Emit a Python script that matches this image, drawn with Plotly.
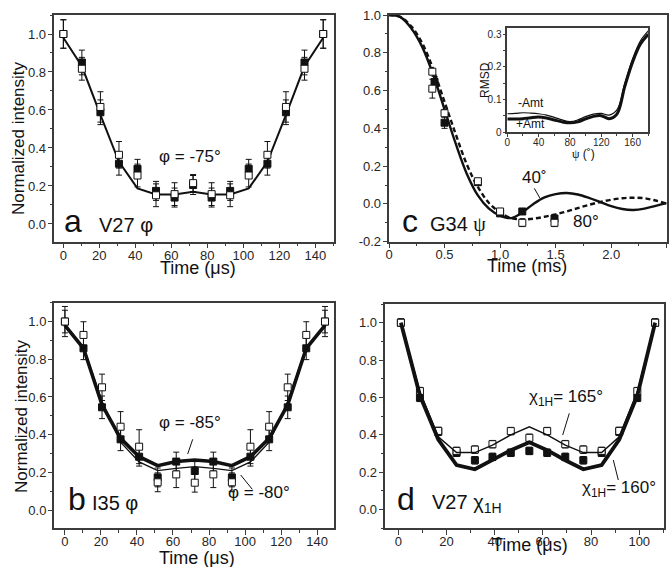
import plotly.graph_objects as go

W, H = 671, 567
SANS = "Liberation Sans, Arial, sans-serif"
INK = "#111111"
AXC = "#3c3c3c"

# ---------------- data ----------------
# (a) V27 phi
a_time = [0, 10.3, 20.6, 30.9, 41.2, 51.5, 61.8, 72.1, 82.4, 92.7, 103.0, 113.4, 123.7, 134.0, 144.4]
a_open = [1.0, 0.817, 0.616, 0.364, 0.255, 0.151, 0.157, 0.215, 0.157, 0.151, 0.255, 0.364, 0.616, 0.817, 1.0]
a_open_err = [0.075, 0.06, 0.08, 0.07, 0.06, 0.06, 0.06, 0.045, 0.06, 0.06, 0.06, 0.07, 0.08, 0.06, 0.075]
a_fill = [1.0, 0.85, 0.588, 0.317, 0.29, 0.174, 0.139, 0.205, 0.139, 0.174, 0.29, 0.317, 0.588, 0.85, 1.0]
a_fill_err = [0.075, 0.065, 0.065, 0.06, 0.05, 0.05, 0.05, 0.05, 0.05, 0.05, 0.05, 0.06, 0.065, 0.065, 0.075]
a_fit = [0.98, 0.83, 0.574, 0.327, 0.187, 0.155, 0.155, 0.169, 0.155, 0.155, 0.187, 0.327, 0.574, 0.83, 0.98]

# (b) I35 phi
b_time = [0, 10.3, 20.6, 30.9, 41.2, 51.5, 61.8, 72.1, 82.4, 92.7, 103.0, 113.4, 123.7, 134.0, 144.4]
b_open = [1.0, 0.929, 0.651, 0.442, 0.336, 0.147, 0.189, 0.145, 0.189, 0.147, 0.336, 0.442, 0.651, 0.929, 1.0]
b_open_err = [0.08, 0.07, 0.07, 0.08, 0.09, 0.05, 0.07, 0.05, 0.07, 0.05, 0.09, 0.08, 0.07, 0.07, 0.08]
b_fill = [1.0, 0.858, 0.545, 0.375, 0.283, 0.173, 0.257, 0.207, 0.257, 0.173, 0.283, 0.375, 0.545, 0.858, 1.0]
b_fill_err = [0.06, 0.06, 0.06, 0.06, 0.05, 0.05, 0.05, 0.05, 0.05, 0.05, 0.05, 0.06, 0.06, 0.06, 0.06]
b_fit_m85 = [0.98, 0.858, 0.558, 0.38, 0.283, 0.235, 0.257, 0.265, 0.257, 0.235, 0.283, 0.38, 0.558, 0.858, 0.98]
b_fit_m80 = [0.98, 0.865, 0.575, 0.36, 0.255, 0.209, 0.221, 0.23, 0.221, 0.209, 0.255, 0.36, 0.575, 0.865, 0.98]

# (c) G34 psi
c_time = [0.0, 0.1, 0.2, 0.3, 0.4, 0.5, 0.6, 0.7, 0.8, 0.9, 1.0, 1.1, 1.2, 1.3,
          1.4, 1.5, 1.6, 1.7, 1.8, 1.9, 2.0, 2.1, 2.2, 2.3, 2.4, 2.5]
c_fit_40 = [1.0, 0.99, 0.93, 0.83, 0.68, 0.50, 0.32, 0.16, 0.045, -0.025, -0.062, -0.075, -0.045, 0.0,
            0.035, 0.052, 0.058, 0.05, 0.032, 0.01, -0.012, -0.027, -0.032, -0.025, -0.01, 0.004]
c_fit_80 = [1.0, 0.99, 0.94, 0.85, 0.71, 0.54, 0.37, 0.21, 0.09, 0.005, -0.045, -0.075, -0.082, -0.078,
            -0.068, -0.055, -0.04, -0.022, -0.005, 0.01, 0.022, 0.03, 0.033, 0.03, 0.018, 0.002]
c_open_t = [0.39, 0.39, 0.50, 0.80, 1.00, 1.20, 1.49]
c_open = [0.70, 0.61, 0.48, 0.12, -0.04, -0.10, -0.10]
c_open_err = [0.015, 0.05, 0.02, 0.015, 0.015, 0.02, 0.02]
c_fill_t = [0.41, 0.50, 0.80, 1.00, 1.20, 1.49]
c_fill = [0.645, 0.43, 0.115, -0.05, -0.04, -0.077]
c_fill_err = [0.03, 0.03, 0.015, 0.015, 0.015, 0.015]
c_xticks = [0, 0.5, 1.0, 1.5, 2.0, 2.5]
c_xticktext = ["0", "0.5", "1.0", "1.5", "2.0", "2.5"]
c_yticks = [-0.2, 0.0, 0.2, 0.4, 0.6, 0.8, 1.0]
c_yticktext = ["-0.2", "0.0", "0.2", "0.4", "0.6", "0.8", "1.0"]

# inset RMSD vs psi
ins_psi = [0, 10, 20, 30, 40, 50, 60, 70, 80, 90, 100, 110, 120, 130, 140, 150, 160, 170, 180]
ins_plus = [0.040, 0.040, 0.041, 0.044, 0.046, 0.043, 0.037, 0.031, 0.028, 0.031, 0.040, 0.048, 0.050, 0.041, 0.055, 0.140, 0.215, 0.270, 0.300]
ins_minus = [0.056, 0.057, 0.059, 0.058, 0.056, 0.052, 0.045, 0.037, 0.032, 0.037, 0.047, 0.055, 0.057, 0.052, 0.068, 0.150, 0.225, 0.280, 0.310]

# (d) V27 chi1H
d_time = [1.1, 9.0, 16.6, 24.2, 31.8, 39.1, 46.7, 54.4, 61.8, 69.3, 76.8, 84.4, 91.7, 99.2, 106.6]
d_open = [1.0, 0.634, 0.421, 0.314, 0.321, 0.35, 0.42, 0.384, 0.42, 0.35, 0.321, 0.314, 0.421, 0.634, 1.0]
d_fill = [1.0, 0.598, 0.416, 0.304, 0.264, 0.282, 0.304, 0.314, 0.304, 0.282, 0.264, 0.304, 0.416, 0.598, 1.0]
d_err = [0.02, 0.02, 0.02, 0.02, 0.02, 0.02, 0.02, 0.02, 0.02, 0.02, 0.02, 0.02, 0.02, 0.02, 0.02]
d_fit_165 = [1.0, 0.63, 0.39, 0.305, 0.305, 0.345, 0.40, 0.443, 0.40, 0.345, 0.305, 0.305, 0.39, 0.63, 1.0]
d_fit_160 = [1.0, 0.61, 0.375, 0.238, 0.216, 0.264, 0.318, 0.36, 0.318, 0.264, 0.216, 0.238, 0.375, 0.61, 1.0]


def px(x):
    return x / W


def py(y):
    return 1 - y / H


fig = go.Figure()


def points(x, y, err, filled, xa, ya):
    fig.add_trace(go.Scatter(
        x=x, y=y, mode="markers", xaxis=xa, yaxis=ya,
        marker=dict(symbol="square", size=7,
                    color=INK if filled else "white",
                    line=dict(color=INK, width=1)),
        error_y=dict(type="data", array=err, visible=True, color=INK,
                     thickness=1, width=3),
        showlegend=False, hoverinfo="skip"))


def curve(x, y, width, xa, ya, dash="solid", shape="linear"):
    fig.add_trace(go.Scatter(
        x=x, y=y, mode="lines", xaxis=xa, yaxis=ya,
        line=dict(color=INK, width=width, dash=dash, shape=shape),
        showlegend=False, hoverinfo="skip"))


# panel a
curve(a_time, a_fit, 2, "x", "y")
points(a_time, a_fill, a_fill_err, True, "x", "y")
points(a_time, a_open, a_open_err, False, "x", "y")
# panel b
curve(b_time, b_fit_m80, 1.4, "x2", "y2")
curve(b_time, b_fit_m85, 3.6, "x2", "y2")
points(b_time, b_fill, b_fill_err, True, "x2", "y2")
points(b_time, b_open, b_open_err, False, "x2", "y2")
# panel c
curve(c_time, c_fit_80, 2.4, "x3", "y3", dash="5px,3px", shape="spline")
curve(c_time, c_fit_40, 2.4, "x3", "y3", shape="spline")
points(c_fill_t, c_fill, c_fill_err, True, "x3", "y3")
points(c_open_t, c_open, c_open_err, False, "x3", "y3")
# inset
curve(ins_psi, ins_minus, 1.2, "x5", "y5", shape="spline")
curve(ins_psi, ins_plus, 3.0, "x5", "y5", shape="spline")
# panel d
points(d_time, d_fill, d_err, True, "x4", "y4")
points(d_time, d_open, d_err, False, "x4", "y4")
curve(d_time, d_fit_165, 1.5, "x4", "y4")
curve(d_time, d_fit_160, 3.8, "x4", "y4")


def axis(domain, rng, anchor, dtick=None, minor=None, size=13, tickvals=None,
         ticktext=None, fmt=None, ticklen=4.5, standoff=0):
    d = dict(domain=domain, range=rng, anchor=anchor, showline=True,
             linecolor=AXC, linewidth=1.6, mirror=True, ticks="outside",
             ticklen=ticklen, tickwidth=1.2, tickcolor=AXC, showgrid=False,
             zeroline=False, fixedrange=True, ticklabelstandoff=standoff,
             tickfont=dict(family=SANS, size=size, color="#262626"),
             minor=dict(ticks="outside", ticklen=2.5, tickwidth=1,
                        tickcolor=AXC, dtick=minor, tick0=0, showgrid=False))
    if tickvals is not None:
        d.update(tickmode="array", tickvals=tickvals, ticktext=ticktext)
    else:
        d.update(tick0=0, dtick=dtick)
    if fmt:
        d["tickformat"] = fmt
    return d


fig.update_layout(
    width=W, height=H,
    margin=dict(l=0, r=0, t=0, b=0, autoexpand=False),
    paper_bgcolor="white", plot_bgcolor="white",
    showlegend=False,
    xaxis=axis([px(54), px(334)], [-5.2, 150.4], "y", 20, 10, standoff=-4),
    yaxis=axis([py(242), py(15)], [-0.095, 1.10], "x", 0.2, 0.1, fmt=".1f", standoff=-1),
    xaxis2=axis([px(54.3), px(334)], [-5.9, 149.4], "y2", 20, 10, standoff=-4),
    yaxis2=axis([py(528.3), py(302.7)], [-0.097, 1.10], "x2", 0.2, 0.1, fmt=".1f", standoff=-1),
    xaxis3=axis([px(389), px(666.7)], [0, 2.5], "y3", minor=0.25,
                tickvals=c_xticks, ticktext=c_xticktext, standoff=-5),
    yaxis3=axis([py(241.7), py(15)], [-0.2, 1.0], "x3", minor=0.1,
                tickvals=c_yticks, ticktext=c_yticktext, standoff=-1),
    xaxis4=axis([px(385), px(664.3)], [-5.5, 110.4], "y4", 20, 10, standoff=-4),
    yaxis4=axis([py(528.3), py(304)], [-0.10, 1.10], "x4", 0.2, 0.1, fmt=".1f", standoff=-1),
    xaxis5=axis([px(507.3), px(648.3)], [0, 180], "y5", 40, 20, size=10, ticklen=3, standoff=-3),
    yaxis5=axis([py(132), py(27.7)], [0, 0.32], "x5", 0.1, 0.05, size=10, ticklen=3, standoff=-1),
)


def text(s, x, baseline, size, anchor="center"):
    # place text by its baseline (pixel coords), Liberation Sans metrics
    mid = baseline - (0.905 - 0.5585) * size
    fig.add_annotation(text=s, x=px(x), y=py(mid), xref="paper", yref="paper",
                       xanchor=anchor, yanchor="middle", showarrow=False,
                       font=dict(family=SANS, size=size, color=INK))


def rot(s, xc, yc, size):
    fig.add_annotation(text=s, x=px(xc), y=py(yc), xref="paper", yref="paper",
                       xanchor="center", yanchor="middle", showarrow=False,
                       textangle=-90, font=dict(family=SANS, size=size, color=INK))


def ptr(x0, y0, x1, y1):
    fig.add_shape(type="line", xref="paper", yref="paper",
                  x0=px(x0), y0=py(y0), x1=px(x1), y1=py(y1),
                  line=dict(color=INK, width=1))


PHI = "φ"
PSI = "<span style='font-family:Liberation Serif;color:#111111'>ψ</span>"

# axis titles
text("Time (μs)", 197.5, 274.5, 18)
text("Time (μs)", 197, 564, 18)
text("Time (ms)", 527, 272.5, 18)
text("Time (μs)", 530, 551, 18)
rot("Normalized intensity", 18, 138, 17)
rot("Normalized intensity", 21, 416, 17)

# panel a
text("a", 62, 232, 32, "left")
text("V27 " + PHI, 96.7, 231.7, 20, "left")
text(PHI + " = -75°", 190, 162, 17)

# panel b
text("b", 65.5, 510, 32, "left")
text("I35 " + PHI, 90, 510, 20, "left")
text(PHI + " = -85°", 190, 428.3, 17)
text(PHI + " = -80°", 259.3, 498.3, 17)
ptr(192.7, 439.3, 187.7, 454)
ptr(240.7, 475, 252.3, 489.3)

# panel c
text("c", 399.5, 231.7, 32, "left")
text("G34 " + PSI, 428.3, 231.7, 20, "left")
text("40˚", 534, 183.3, 17)
text("80°", 586, 227.3, 17)
ptr(534.3, 188.3, 540, 198.3)

# inset
rot("RMSD", 485, 80, 12)
text("-Amt", 530.7, 106.7, 12)
text("+Amt", 530, 127.7, 12)
text(PSI + " (˚)", 583.3, 158, 12)

# panel d
text("d", 395.5, 510, 32, "left")
text("V27 χ<sub>1H</sub>", 430, 510, 20, "left")
text("χ<sub>1H</sub>= 165°", 565.8, 404, 17)
text("χ<sub>1H</sub>= 160°", 619, 495, 17)
ptr(569.3, 413.3, 562.7, 435)
ptr(613.3, 460, 618.3, 480)

fig.write_html(
    "out.html",
    config={"displayModeBar": False},
    post_script="document.body.style.margin='0px';document.body.style.overflow='hidden';",
)
